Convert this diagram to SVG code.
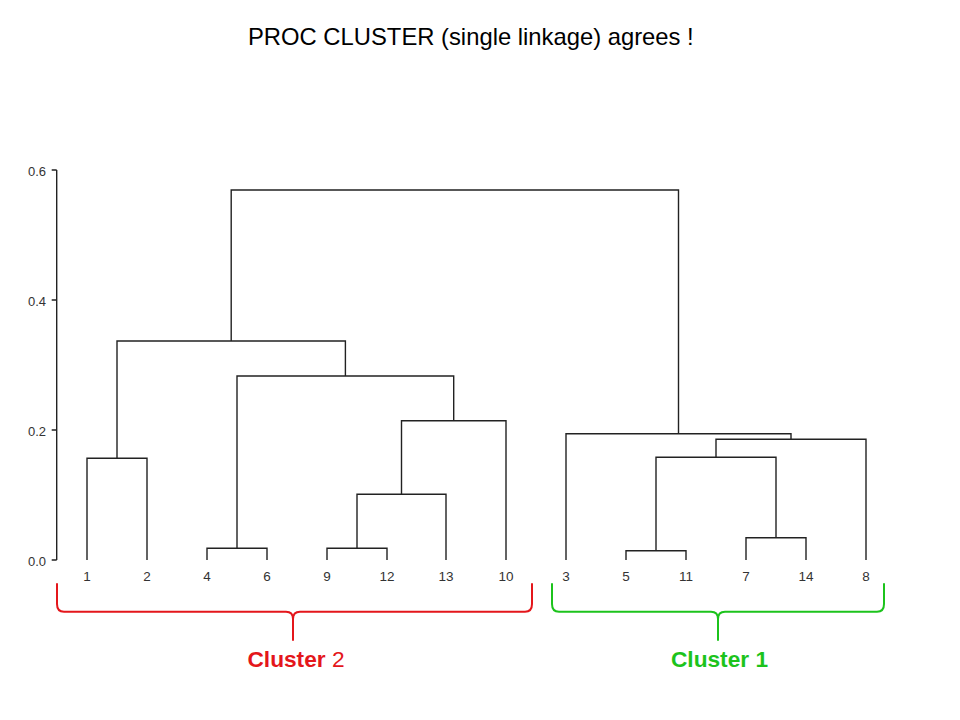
<svg xmlns="http://www.w3.org/2000/svg" width="960" height="720" viewBox="0 0 960 720">
<style>
.bg{fill:#ffffff}
.title{font-family:"Liberation Sans",Arial,sans-serif;font-size:23.8px;fill:#000}
.tick{font-family:"Liberation Sans",Arial,sans-serif;font-size:13px;fill:#333;text-anchor:end}
.leaf{font-family:"Liberation Sans",Arial,sans-serif;font-size:13.5px;fill:#333;text-anchor:middle}
.axis{stroke:#222;stroke-width:1.4;fill:none}
.link{stroke:#222;stroke-width:1.4;fill:none}
.brace{stroke-width:2;fill:none;stroke-linecap:round}
.red{stroke:#e4161b}
.green{stroke:#1cc31c}
.clab{font-family:"Liberation Sans",Arial,sans-serif;font-size:22.7px;text-anchor:middle}
</style>
<rect class="bg" x="0" y="0" width="960" height="720"/>
<text class="title" x="248" y="45">PROC CLUSTER (single linkage) agrees !</text>
<g id="axis">
<path class="axis" d="M56.7,170 V560 M51.7,170 H56.7 M51.7,300 H56.7 M51.7,430 H56.7 M51.7,560 H56.7"/>
<text class="tick" x="46" y="175.5">0.6</text>
<text class="tick" x="46" y="305.5">0.4</text>
<text class="tick" x="46" y="435.5">0.2</text>
<text class="tick" x="46" y="565.5">0.0</text>
</g>
<g id="leaves">
<g id="leaf1"><text class="leaf" x="87" y="581">1</text></g>
<g id="leaf2"><text class="leaf" x="147" y="581">2</text></g>
<g id="leaf4"><text class="leaf" x="207" y="581">4</text></g>
<g id="leaf6"><text class="leaf" x="267" y="581">6</text></g>
<g id="leaf9"><text class="leaf" x="327" y="581">9</text></g>
<g id="leaf12"><text class="leaf" x="387" y="581">12</text></g>
<g id="leaf13"><text class="leaf" x="446" y="581">13</text></g>
<g id="leaf10"><text class="leaf" x="506" y="581">10</text></g>
<g id="leaf3"><text class="leaf" x="566" y="581">3</text></g>
<g id="leaf5"><text class="leaf" x="626" y="581">5</text></g>
<g id="leaf11"><text class="leaf" x="686" y="581">11</text></g>
<g id="leaf7"><text class="leaf" x="746" y="581">7</text></g>
<g id="leaf14"><text class="leaf" x="806" y="581">14</text></g>
<g id="leaf8"><text class="leaf" x="866" y="581">8</text></g>
</g>
<g id="connectors">
<path class="link" d="M87,560 V458.3 H147 V560"/>
<path class="link" d="M207,560 V548.3 H267 V560"/>
<path class="link" d="M327,560 V548.3 H387 V560"/>
<path class="link" d="M357,548.3 V494.3 H446 V560"/>
<path class="link" d="M401.5,494.3 V420.7 H506 V560"/>
<path class="link" d="M237,548.3 V376 H453.7 V420.7"/>
<path class="link" d="M117,458.3 V341 H345.4 V376"/>
<path class="link" d="M626,560 V550.7 H686 V560"/>
<path class="link" d="M746,560 V537.7 H806 V560"/>
<path class="link" d="M656,550.7 V457.3 H776 V537.7"/>
<path class="link" d="M716,457.3 V439.3 H866 V560"/>
<path class="link" d="M566,560 V433.7 H791 V439.3"/>
<path class="link" d="M231.2,341 V190 H678.5 V433.7"/>
</g>
<g id="cluster2">
<path class="brace red" d="M57,584 V604 Q57,611.7 64,611.7 H286 Q293,611.7 293,619 V640 M293,619 Q293,611.7 300,611.7 H525 Q532,611.7 532,604 V584"/>
<text class="clab" x="296" y="667.3"><tspan font-weight="bold" fill="#e4161b">Cluster</tspan><tspan fill="#e4161b"> 2</tspan></text>
</g>
<g id="cluster1">
<path class="brace green" d="M552,584 V604 Q552,611.7 559,611.7 H711 Q718,611.7 718,619 V640 M718,619 Q718,611.7 725,611.7 H877 Q884,611.7 884,604 V584"/>
<text class="clab" x="719.5" y="667.3" font-weight="bold" fill="#1cc31c">Cluster 1</text>
</g>
</svg>
